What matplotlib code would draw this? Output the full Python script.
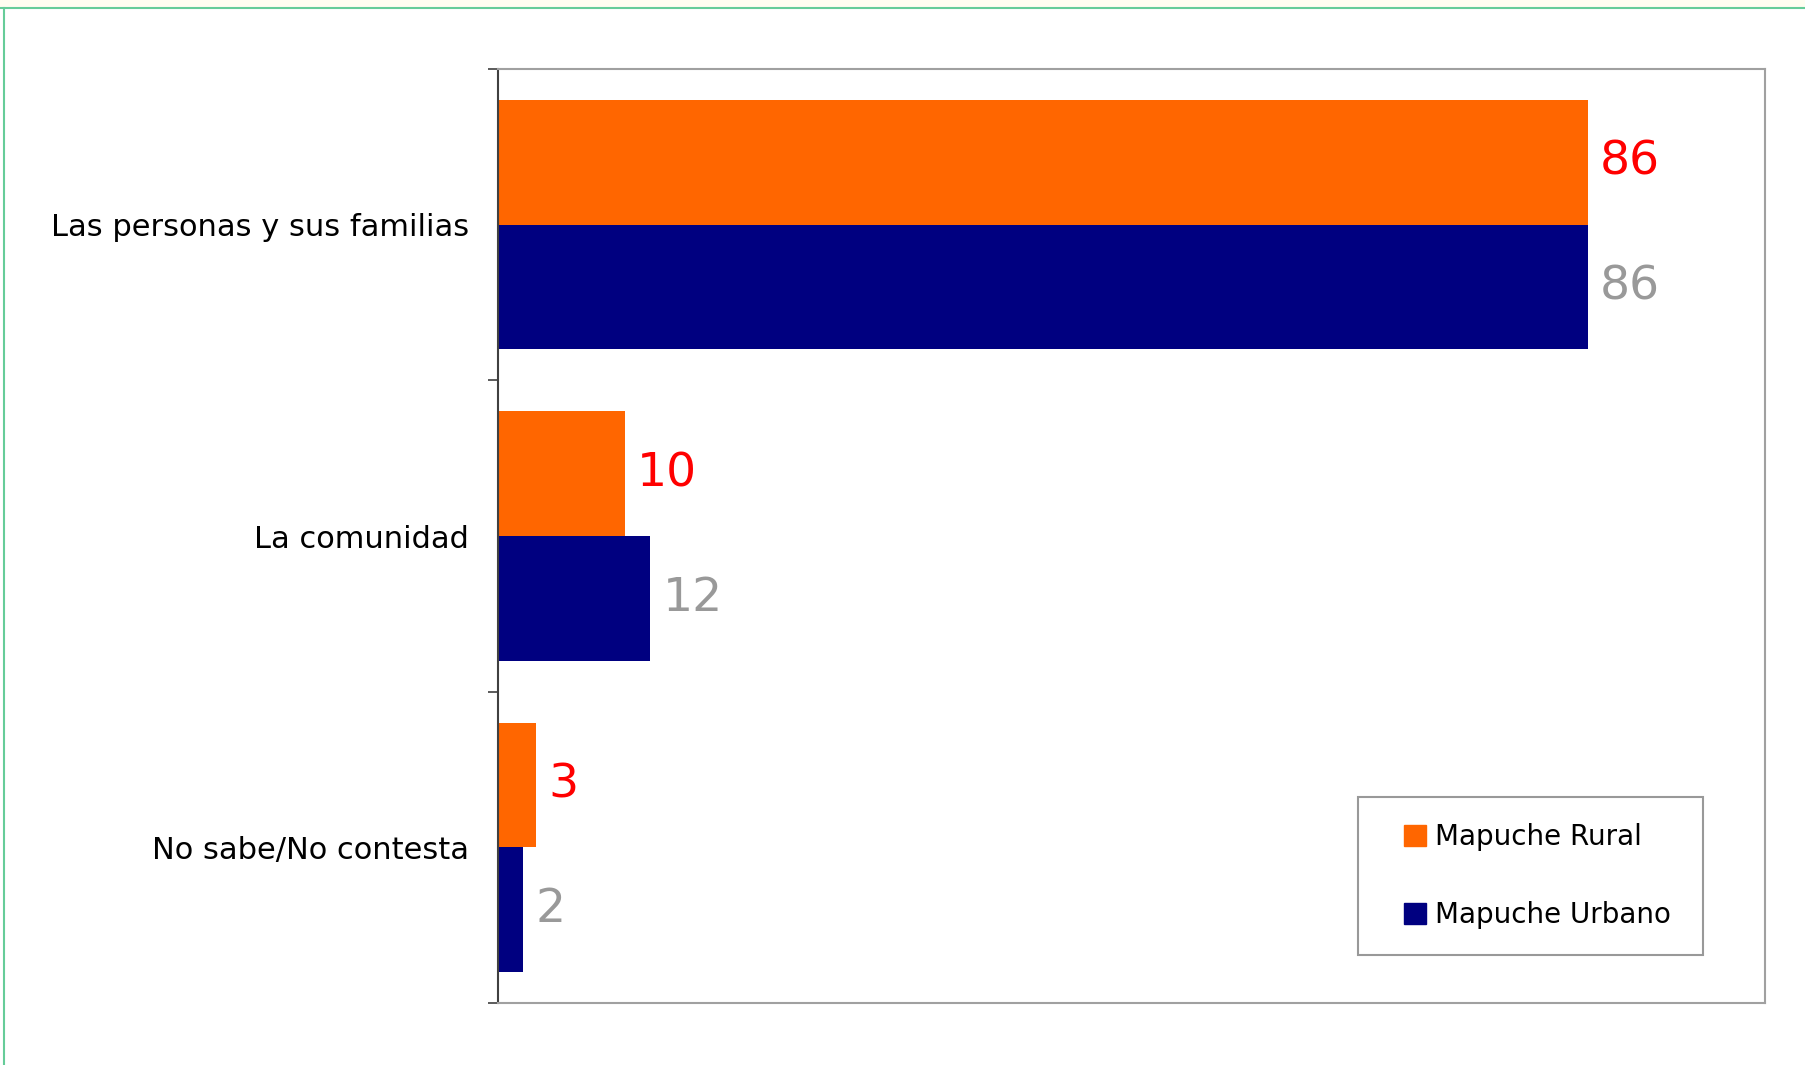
import matplotlib
matplotlib.use('Agg')
import matplotlib.pyplot as plt
import numpy as np
from matplotlib.patches import Rectangle
from matplotlib.lines import Line2D

categories = ["Las personas y sus familias", "La comunidad", "No sabe/No contesta"]
rural = [86, 10, 3]
urbano = [86, 12, 2]
series_names = ["Mapuche Rural", "Mapuche Urbano"]

plt.rcParams['font.family'] = ['DejaVu Sans']

W, H = 1806, 1065
fig = plt.figure(figsize=(W / 100, H / 100), dpi=100)
fig.patch.set_facecolor('white')

# top strip and green frame
fig.add_artist(Rectangle((0, 1 - 7 / H), 1, 7 / H, transform=fig.transFigure,
                         facecolor='#FFFDF0', edgecolor='none', zorder=0))
fig.add_artist(Line2D([0, 1], [1 - 7.5 / H, 1 - 7.5 / H], transform=fig.transFigure,
                      color='#66CC99', lw=1.5, zorder=1))
fig.add_artist(Line2D([4.5 / W, 4.5 / W], [0, 1 - 7.5 / H], transform=fig.transFigure,
                      color='#66CC99', lw=1.5, zorder=1))

ax = fig.add_axes([498 / W, 62 / H, (1765 - 498) / W, (1003 - 69) / H])
y = np.arange(len(categories))
h = 0.4
ax.barh(y - h / 2, rural, height=h, color='#FF6600', label=series_names[0])
ax.barh(y + h / 2, urbano, height=h, color='#000080', label=series_names[1])
ax.set_xlim(0, 100)
ax.set_ylim(len(categories) - 0.5, -0.5)
ax.set_xticks([])
ax.set_yticks(np.arange(len(categories) + 1) - 0.5)
ax.set_yticklabels([])
ax.set_yticks(y, minor=True)
ax.set_yticklabels(categories, minor=True, fontsize=22)
ax.tick_params(axis='y', which='minor', length=0, pad=21)
ax.tick_params(axis='y', which='major', length=7, width=1.2, color='#404040')

for s in ['top', 'right', 'bottom']:
    ax.spines[s].set_color('#A0A0A0')
    ax.spines[s].set_linewidth(1.5)
ax.spines['left'].set_color('#404040')
ax.spines['left'].set_linewidth(1.5)

for i, v in enumerate(rural):
    ax.annotate(str(v), (v, y[i] - h / 2), xytext=(9, 0), textcoords='offset points',
                color='#FF0000', fontsize=34, va='center', ha='left')
for i, v in enumerate(urbano):
    ax.annotate(str(v), (v, y[i] + h / 2), xytext=(9, 0), textcoords='offset points',
                color='#999999', fontsize=34, va='center', ha='left')

# legend
fig.add_artist(Rectangle((1358 / W, 1 - 955 / H), 345 / W, 158 / H, transform=fig.transFigure,
                         facecolor='white', edgecolor='#999999', lw=1.5, zorder=2))
handles = [Rectangle((0, 0), 1, 1, color='#FF6600'), Rectangle((0, 0), 1, 1, color='#000080')]
leg = fig.legend(handles, series_names, loc='center left',
                 bbox_to_anchor=(1404 / W, 1 - 876 / H), bbox_transform=fig.transFigure,
                 frameon=False, borderpad=0, borderaxespad=0, handlelength=0.8,
                 handleheight=0.8, handletextpad=0.3, labelspacing=1.8, fontsize=20)
leg.set_zorder(3)

fig.savefig('out.png', dpi=100)
